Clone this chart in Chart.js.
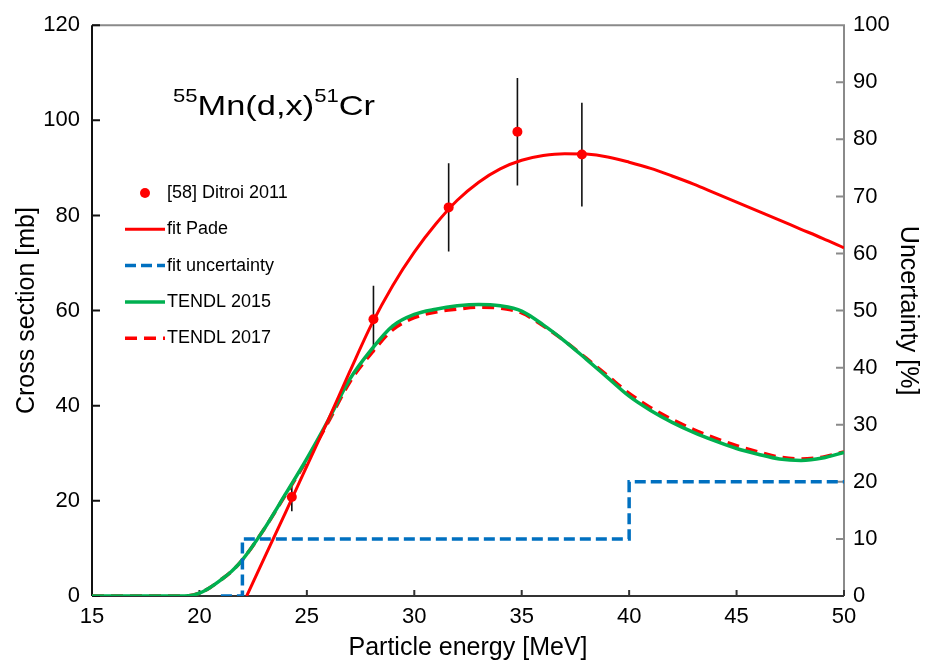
<!DOCTYPE html>
<html>
<head>
<meta charset="utf-8">
<script src="https://cdn.jsdelivr.net/npm/chart.js@4.4.1/dist/chart.umd.min.js"></script>
<style>
  html, body { margin: 0; padding: 0; background: #fff; }
  #wrap { width: 935px; height: 664px; }
</style>
</head>
<body>
<div id="wrap"><canvas id="xs-chart" width="935" height="664"></canvas></div>
<script>
// measured points [58] Ditroi 2011
const expE   = [24.3, 28.1, 31.6, 34.8, 37.8];
const expXS  = [20.8, 58.2, 81.7, 97.6, 92.8];
const expErr = [3.0, 7.0, 9.3, 11.3, 10.9];

// Pade fit
const fitE  = [22.2, 23, 24, 25, 26, 27, 28, 29, 30, 31, 32, 33, 34, 35, 36, 37, 38, 39, 40, 41, 42, 43, 44, 45, 46, 47, 48, 49, 50];
const fitXS = [0, 7.8, 17.5, 27.3, 37.1, 47.2, 57.0, 65.3, 72.3, 78.2, 83.2, 87.0, 89.8, 91.6, 92.6, 93.0, 92.9, 92.3, 91.2, 89.9, 88.3, 86.6, 84.7, 82.8, 80.9, 79.0, 77.1, 75.2, 73.2];

// fit uncertainty [%] (right axis)
const uncE   = [21, 22, 22, 40, 40, 50];
const uncPct = [0, 0, 10, 10, 20, 20];

// TENDL evaluations
const tendlE    = [15, 16, 17, 18, 19, 19.5, 20, 20.5, 21, 21.5, 22, 23, 24, 25, 26, 27, 28, 29, 30, 31, 32, 33, 34, 35, 36, 37, 38, 39, 40, 41, 42, 43, 44, 45, 46, 47, 48, 49, 50];
const tendl2015 = [0, 0, 0, 0, 0, 0.05, 0.6, 1.8, 3.4, 5.2, 7.6, 14.0, 21.4, 28.9, 37.0, 45.6, 51.8, 56.8, 59.2, 60.3, 61.0, 61.3, 61.0, 59.9, 57.0, 53.6, 49.8, 45.9, 42.0, 39.0, 36.5, 34.4, 32.6, 31.0, 29.8, 28.8, 28.5, 29.0, 30.2];
const tendl2017 = [0, 0, 0, 0, 0, 0.05, 0.6, 1.8, 3.4, 5.2, 7.6, 14.0, 21.2, 28.6, 36.6, 45.0, 51.0, 56.0, 58.5, 59.7, 60.3, 60.7, 60.5, 59.5, 56.8, 53.6, 50.0, 46.3, 42.6, 39.6, 37.1, 35.0, 33.2, 31.6, 30.3, 29.2, 28.8, 29.2, 30.3];

const FONT = '"Liberation Sans", Arial, sans-serif';

function pts(xs, ys) {
  return xs.map((x, i) => ({x: x, y: ys[i]}));
}

// axes frame with inward ticks, drawn under the curves
const framePlugin = {
  id: 'frame',
  beforeDatasetsDraw(chart) {
    const {ctx, chartArea: a, scales} = chart;
    ctx.save();
    ctx.lineWidth = 2;
    ctx.strokeStyle = '#8a8a8a';
    ctx.beginPath();
    ctx.moveTo(a.left, a.top);
    ctx.lineTo(a.right, a.top);
    ctx.lineTo(a.right, a.bottom);
    scales.y2.ticks.forEach(t => {
      const y = scales.y2.getPixelForValue(t.value);
      ctx.moveTo(a.right - 8, y);
      ctx.lineTo(a.right, y);
    });
    ctx.stroke();

    ctx.strokeStyle = '#333';
    ctx.beginPath();
    ctx.moveTo(a.left, a.bottom);
    ctx.lineTo(a.right, a.bottom);
    scales.x.ticks.forEach(t => {
      const x = scales.x.getPixelForValue(t.value);
      ctx.moveTo(x, a.bottom - 6);
      ctx.lineTo(x, a.bottom);
    });
    ctx.stroke();

    ctx.strokeStyle = '#111';
    ctx.beginPath();
    ctx.moveTo(a.left, a.top);
    ctx.lineTo(a.left, a.bottom);
    scales.y.ticks.forEach(t => {
      const y = scales.y.getPixelForValue(t.value);
      ctx.moveTo(a.left, y);
      ctx.lineTo(a.left + 8, y);
    });
    ctx.stroke();

    // error bars
    ctx.strokeStyle = '#111';
    ctx.lineWidth = 1.6;
    ctx.beginPath();
    expE.forEach((e, i) => {
      const x = scales.x.getPixelForValue(e);
      ctx.moveTo(x, scales.y.getPixelForValue(expXS[i] + expErr[i]));
      ctx.lineTo(x, scales.y.getPixelForValue(expXS[i] - expErr[i]));
    });
    ctx.stroke();
    ctx.restore();
  }
};

const titlePlugin = {
  id: 'reactionTitle',
  afterDraw(chart) {
    const ctx = chart.ctx;
    const parts = [['55', true], ['Mn(d,x)', false], ['51', true], ['Cr', false]];
    ctx.save();
    ctx.fillStyle = '#000';
    ctx.textBaseline = 'alphabetic';
    let w = 0;
    parts.forEach(p => {
      ctx.font = (p[1] ? '18px ' : '28px ') + FONT;
      w += ctx.measureText(p[0]).width;
    });
    ctx.translate(173, 115);
    ctx.scale(202 / w, 1);
    let x = 0;
    parts.forEach(p => {
      ctx.font = (p[1] ? '18px ' : '28px ') + FONT;
      ctx.fillText(p[0], x, p[1] ? -13 : 0);
      x += ctx.measureText(p[0]).width;
    });
    ctx.restore();
  }
};

const legendPlugin = {
  id: 'insideLegend',
  afterDraw(chart) {
    const ctx = chart.ctx;
    ctx.save();
    ctx.font = '18px ' + FONT;
    ctx.textBaseline = 'middle';
    chart.data.datasets.forEach((ds, i) => {
      const y = 193 + i * 36.3;
      if (ds.showLine) {
        ctx.strokeStyle = ds.borderColor;
        ctx.lineWidth = ds.borderWidth;
        ctx.setLineDash(ds.borderDash || []);
        ctx.beginPath();
        ctx.moveTo(125, y);
        ctx.lineTo(165, y);
        ctx.stroke();
        ctx.setLineDash([]);
      } else {
        ctx.fillStyle = ds.pointBackgroundColor;
        ctx.beginPath();
        ctx.arc(145, y, 5, 0, Math.PI * 2);
        ctx.fill();
      }
      ctx.fillStyle = '#000';
      ctx.fillText(ds.label, 167, y);
    });
    ctx.restore();
  }
};

const hiddenGrid = { display: false, drawTicks: false, tickLength: 0 };

const ctx = document.getElementById('xs-chart');
new Chart(ctx, {
  type: 'scatter',
  data: {
    datasets: [
      {
        label: '[58] Ditroi 2011',
        data: pts(expE, expXS),
        showLine: false,
        pointRadius: 5,
        pointBackgroundColor: '#ff0000',
        pointBorderWidth: 0,
        yAxisID: 'y'
      },
      {
        label: 'fit Pade',
        data: pts(fitE, fitXS),
        showLine: true,
        borderColor: '#ff0000',
        borderWidth: 3,
        pointRadius: 0,
        cubicInterpolationMode: 'monotone',
        yAxisID: 'y'
      },
      {
        label: 'fit uncertainty',
        data: pts(uncE, uncPct),
        showLine: true,
        borderColor: '#0070c0',
        borderWidth: 3.5,
        borderDash: [11, 5],
        pointRadius: 0,
        tension: 0,
        yAxisID: 'y2'
      },
      {
        label: 'TENDL 2015',
        data: pts(tendlE, tendl2015),
        showLine: true,
        borderColor: '#00b050',
        borderWidth: 3.5,
        pointRadius: 0,
        cubicInterpolationMode: 'monotone',
        yAxisID: 'y'
      },
      {
        label: 'TENDL 2017',
        data: pts(tendlE, tendl2017),
        showLine: true,
        borderColor: '#ff0000',
        borderWidth: 3.5,
        borderDash: [12, 7],
        pointRadius: 0,
        cubicInterpolationMode: 'monotone',
        yAxisID: 'y'
      }
    ]
  },
  options: {
    responsive: false,
    animation: false,
    layout: {
      padding: {top: 23, left: 0, right: 0, bottom: 0}
    },
    scales: {
      x: {
        type: 'linear',
        min: 15,
        max: 50,
        border: { display: false },
        grid: hiddenGrid,
        ticks: {
          stepSize: 5,
          color: '#000',
          padding: 8,
          maxRotation: 0,
          font: { family: FONT, size: 22 }
        },
        title: {
          display: true,
          text: 'Particle energy [MeV]',
          color: '#000',
          font: { family: FONT, size: 25 },
          padding: { top: 0, bottom: 1 }
        },
        afterFit: function(scale) { scale.height = 68; }
      },
      y: {
        position: 'left',
        min: 0,
        max: 120,
        border: { display: false },
        grid: hiddenGrid,
        ticks: {
          stepSize: 20,
          color: '#000',
          padding: 12,
          font: { family: FONT, size: 22 }
        },
        title: {
          display: true,
          text: 'Cross section [mb]',
          color: '#000',
          font: { family: FONT, size: 25 },
          padding: { top: 12, bottom: 0 }
        },
        afterFit: function(scale) { scale.width = 92; }
      },
      y2: {
        position: 'right',
        min: 0,
        max: 100,
        border: { display: false },
        grid: hiddenGrid,
        ticks: {
          stepSize: 10,
          color: '#000',
          padding: 9,
          font: { family: FONT, size: 22 }
        },
        title: {
          display: true,
          text: 'Uncertainty [%]',
          color: '#000',
          font: { family: FONT, size: 25 },
          padding: { top: 12, bottom: 0 }
        },
        afterFit: function(scale) { scale.width = 91; }
      }
    },
    plugins: {
      legend: { display: false },
      tooltip: { enabled: false }
    }
  },
  plugins: [framePlugin, titlePlugin, legendPlugin]
});
</script>
</body>
</html>
